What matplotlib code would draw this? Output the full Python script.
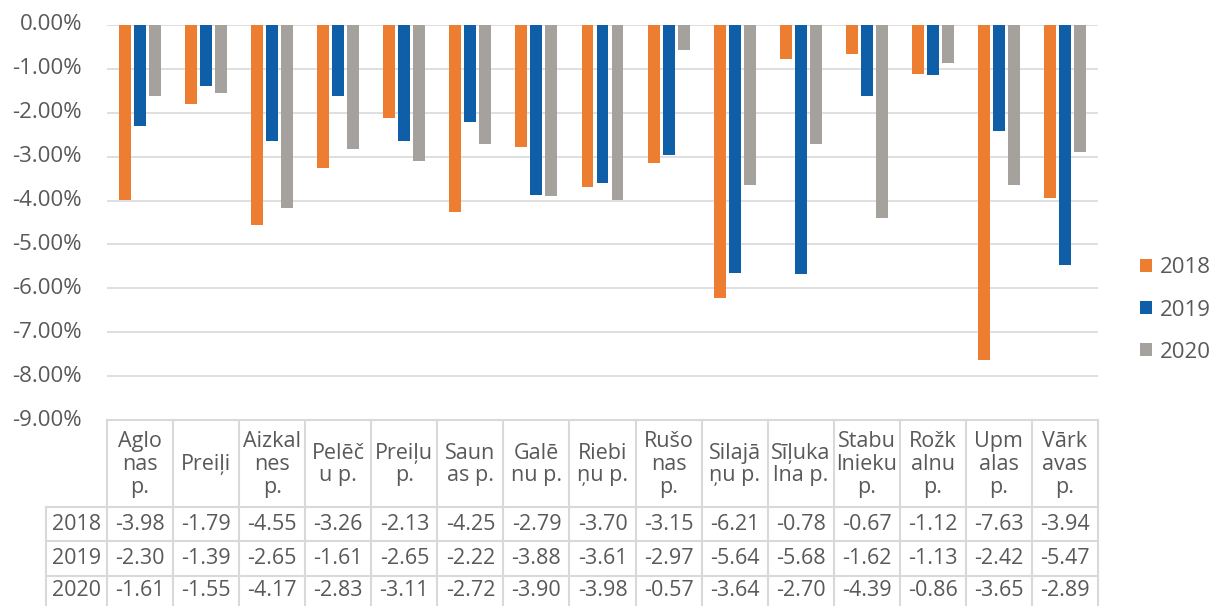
import matplotlib
matplotlib.use("Agg")
import matplotlib.pyplot as plt
import numpy as np

plt.rcParams['font.family'] = ['Open Sans', 'DejaVu Sans']

categories = ["Aglo\nnas\np.", "Preiļi", "Aizkal\nnes\np.", "Pelēč\nu p.", "Preiļu\np.",
              "Saun\nas p.", "Galē\nnu p.", "Riebi\nņu p.", "Rušo\nnas\np.", "Silajā\nņu p.",
              "Sīļuka\nlna p.", "Stabu\nlnieku\np.", "Rožk\nalnu\np.", "Upm\nalas\np.", "Vārk\navas\np."]
years = ["2018", "2019", "2020"]
v2018 = [-3.98, -1.79, -4.55, -3.26, -2.13, -4.25, -2.79, -3.70, -3.15, -6.21, -0.78, -0.67, -1.12, -7.63, -3.94]
v2019 = [-2.30, -1.39, -2.65, -1.61, -2.65, -2.22, -3.88, -3.61, -2.97, -5.64, -5.68, -1.62, -1.13, -2.42, -5.47]
v2020 = [-1.61, -1.55, -4.17, -2.83, -3.11, -2.72, -3.90, -3.98, -0.57, -3.64, -2.70, -4.39, -0.86, -3.65, -2.89]
series = [v2018, v2019, v2020]
colors = ["#ED7D31", "#0F5EA8", "#A5A29E"]
yticks = [0, -1, -2, -3, -4, -5, -6, -7, -8, -9]

W, H = 1214, 606
fig = plt.figure(figsize=(W / 100, H / 100), dpi=100)
txt = "#595959"
grid = "#D9D9D9"
fs = 16
fst = 15.5

L, R, T, B = 107, 1098, 25, 420
ax = fig.add_axes([L / W, 1 - B / H, (R - L) / W, (B - T) / H])
n = len(categories)
x = np.arange(n)
bw = 0.18
step = 0.227
for i, (vals, c, y) in enumerate(zip(series, colors, years)):
    ax.bar(x + (i - 1) * step, vals, width=bw, color=c, label=y, zorder=3)
ax.set_xlim(-0.5, n - 0.5)
ax.set_ylim(-9, 0)
ax.set_yticks(yticks)
ax.set_yticklabels([f"{t:.2f}%" for t in yticks], fontsize=fs, color=txt)
ax.set_xticks([])
ax.tick_params(axis='y', length=0, pad=18)
for s in ax.spines.values():
    s.set_visible(False)
ax.yaxis.grid(True, color=grid, linewidth=1.2, zorder=0)
ax.set_axisbelow(True)
for lbl in ax.get_yticklabels():
    lbl.set_verticalalignment('center')

# data table
TL = 46
yc = 61 / 66.0  # year column width in category units
tax = fig.add_axes([TL / W, 0, (R - TL) / W, (H - B) / H])
tax.set_xlim(-0.5 - yc, n - 0.5)
tax.set_ylim(H, B)
tax.axis('off')
hb = 507
rows = [507, 541, 576, 610]
lw = 1.5
for j in range(n + 1):
    tax.plot([j - 0.5, j - 0.5], [B, H], color=grid, lw=lw, clip_on=False)
tax.plot([-0.5 - yc, -0.5 - yc], [hb, H], color=grid, lw=lw, clip_on=False)
tax.plot([-0.5, n - 0.5], [B, B], color=grid, lw=lw, clip_on=False)
for r in rows[:-1]:
    tax.plot([-0.5 - yc, n - 0.5], [r, r], color=grid, lw=lw, clip_on=False)
for j, c in enumerate(categories):
    tax.text(j, (B + hb) / 2 + 1, c, ha='center', va='center', fontsize=fst,
             color=txt, linespacing=1.12)
for r, (y, vals) in enumerate(zip(years, series)):
    yy = (rows[r] + rows[r + 1]) / 2 if r < 2 else (rows[r] + 606) / 2
    tax.text(-0.5 - yc / 2, yy, y, ha='center', va='center', fontsize=fst, color=txt)
    for j, v in enumerate(vals):
        tax.text(j, yy, f"{v:.2f}", ha='center', va='center', fontsize=fst, color=txt)

handles, labels = ax.get_legend_handles_labels()
fig.legend(handles, labels, loc='center left', bbox_to_anchor=(1140 / W, 1 - 310 / H),
           frameon=False, fontsize=fs, handlelength=0.55, handleheight=0.55,
           handletextpad=0.35, labelspacing=0.95, labelcolor=txt,
           borderaxespad=0, borderpad=0)

fig.savefig("out.png", dpi=100)
